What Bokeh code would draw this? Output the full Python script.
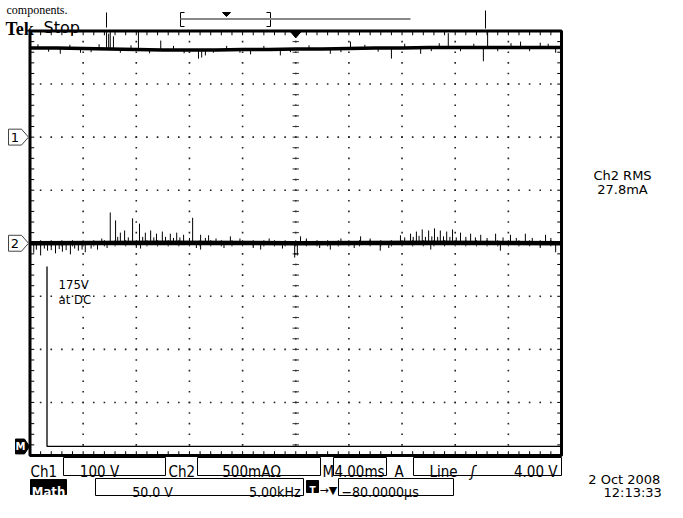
import numpy as np
from bokeh.plotting import figure
from bokeh.models import Range1d
from bokeh.core.properties import value
from bokeh.embed import file_html
from bokeh.resources import INLINE

# ---------------- data (graticule divisions: x 0..10, y -4..4) ----------------
ch1_x = [0, 0.5, 1, 1.5, 2, 2.5, 3, 3.5, 4, 4.5, 5, 5.5, 6, 6.5, 7, 7.5, 8, 8.5, 9, 9.5, 10]
ch1_level = [3.68, 3.68, 3.67, 3.66, 3.65, 3.64, 3.64, 3.64, 3.65, 3.65, 3.66,
             3.66, 3.67, 3.68, 3.68, 3.69, 3.69, 3.69, 3.69, 3.69, 3.69]
ch1_up_x = [1.44, 1.48, 1.51, 1.57, 2.04, 2.46, 6.03, 7.87, 8.61, 9.23, 9.60]
ch1_up_y = [3.98, 3.95, 3.98, 3.90, 3.98, 3.82, 3.80, 3.96, 3.98, 3.80, 3.78]
ch1_dn_x = [0.57, 0.95, 3.17, 3.23, 3.30, 4.15, 4.71, 5.65, 6.80, 7.35, 8.53, 9.89]
ch1_dn_y = [3.57, 3.59, 3.48, 3.50, 3.54, 3.56, 3.54, 3.57, 3.48, 3.57, 3.43, 3.59]
ch1_hair_x = [0.15, 0.35, 0.75, 1.15, 1.30, 1.70, 1.90, 2.25, 2.70, 2.90, 3.45, 3.70,
              3.95, 4.40, 4.90, 5.25, 5.85, 6.30, 6.55, 7.05, 7.55, 7.70, 8.10, 8.35,
              8.80, 9.05, 9.40, 9.75]
ch1_hair_y = [3.75, 3.61, 3.74, 3.60, 3.75, 3.59, 3.73, 3.58, 3.72, 3.58, 3.59, 3.72,
              3.59, 3.72, 3.60, 3.73, 3.60, 3.74, 3.61, 3.76, 3.62, 3.77, 3.62, 3.76,
              3.62, 3.77, 3.62, 3.76]

ch2_x = [0, 2.5, 5, 7.5, 10]
ch2_level = [0.0, 0.01, 0.0, 0.01, 0.0]
ch2_up_x = [1.51, 1.61, 1.70, 1.78, 1.93, 2.06, 2.17, 2.27, 2.38, 2.49, 2.64, 2.76,
            2.89, 3.06, 3.21, 3.36, 3.77, 5.09, 6.22, 6.97, 7.16, 7.27, 7.38, 7.50,
            7.61, 7.72, 7.84, 7.95, 8.10, 8.29, 8.48, 8.76, 9.04, 9.32, 9.70]
ch2_up_y = [0.58, 0.43, 0.20, 0.24, 0.47, 0.37, 0.20, 0.24, 0.18, 0.22, 0.18, 0.20,
            0.16, 0.48, 0.16, 0.15, 0.13, 0.13, 0.13, 0.15, 0.18, 0.22, 0.26, 0.24,
            0.28, 0.24, 0.22, 0.26, 0.20, 0.18, 0.16, 0.18, 0.16, 0.18, 0.16]
ch2_dn_x = [0.07, 0.20, 0.33, 0.48, 0.61, 0.76, 0.91, 1.04, 1.27, 2.08, 3.21, 4.34,
            4.98, 5.03, 5.65, 6.59, 7.54, 8.85, 9.89]
ch2_dn_y = [-0.18, -0.23, -0.14, -0.19, -0.16, -0.21, -0.14, -0.17, -0.12, -0.10,
            -0.12, -0.12, -0.27, -0.23, -0.12, -0.14, -0.12, -0.14, -0.17]
ch2_hair_x = [0.12, 0.27, 0.40, 0.55, 0.68, 0.84, 0.98, 1.15, 1.35, 1.45, 1.65, 1.85,
              2.00, 2.12, 2.33, 2.55, 2.70, 2.82, 3.00, 3.13, 3.30, 3.50, 3.65, 3.95,
              4.20, 4.50, 4.75, 5.20, 5.45, 5.85, 6.10, 6.40, 6.75, 7.05, 7.21, 7.32,
              7.44, 7.56, 7.67, 7.78, 7.90, 8.02, 8.20, 8.38, 8.60, 8.90, 9.15, 9.45,
              9.60, 9.80]
ch2_hair_y = [-0.12, -0.10, -0.13, -0.11, -0.13, -0.10, -0.12, -0.10, 0.09, -0.09, 0.12,
              0.11, -0.09, 0.12, 0.11, 0.12, 0.10, 0.11, 0.10, -0.09, 0.10, 0.09, -0.09,
              0.09, -0.09, 0.09, -0.10, 0.09, -0.09, 0.09, -0.09, 0.09, -0.09, 0.11,
              0.12, 0.14, 0.12, 0.13, 0.12, 0.13, 0.12, 0.11, 0.12, 0.11, 0.10, 0.11,
              0.10, 0.10, -0.09, 0.10]

math_x = [0.32, 0.32, 10.0]
math_y = [-0.44, -3.83, -3.83]

ch1_ref = 2.0
ch2_ref = 0.0
math_ref = -3.83

# ---------------- layout helpers (picture pixels -> graticule units) ----------------
PX0, PXD, PY0, PYD = 29.5, 53.15, 242.75, 53.06
W, H = 667, 502


def X(px):
    return (px - PX0) / PXD


def Y(py):
    return (PY0 - py) / PYD


p = figure(width=W, height=H,
           x_range=Range1d(X(0), X(W)), y_range=Range1d(Y(H), Y(0)),
           output_backend="svg", toolbar_location=None,
           x_axis_type=None, y_axis_type=None, min_border=0,
           outline_line_color=None, background_fill_color="white",
           border_fill_color="white")

COND = "'DejaVu Sans Condensed', 'Liberation Sans Narrow', 'DejaVu Sans'"


def txt(px, py, s, size, font=COND, align="left", color="black", style="normal"):
    p.text(x=[X(px)], y=[Y(py)], text=[s], text_font=value(font),
           text_font_size=value(f"{size}px"), text_align=align,
           text_baseline="alphabetic", text_color=color, text_font_style=style)


def box(x0, y0, x1, y1, fill=None, lw=1, color="black"):
    p.quad(left=[X(x0)], right=[X(x1)], top=[Y(y0)], bottom=[Y(y1)],
           fill_color=fill, line_color=color, line_width=lw)


def seg(x0, y0, x1, y1, lw=1, color="black"):
    p.segment(x0=[X(x0)], y0=[Y(y0)], x1=[X(x1)], y1=[Y(y1)], line_width=lw, line_color=color)


# ---------------- graticule ----------------
steps = np.round(np.arange(-4, 4.001, 0.2), 3)
xsteps = np.round(np.arange(0, 10.001, 0.2), 3)
dx, dy = [], []
for gx in range(1, 10):
    for yy in steps[1:-1]:
        dx.append(gx); dy.append(yy)
for gy in range(-3, 4):
    for xx in xsteps[1:-1]:
        dx.append(xx); dy.append(gy)
p.scatter(dx, dy, marker="square", size=1.6, fill_color="#222222", line_color=None)

# centre crosshair minor ticks
p.segment(x0=[5 - 0.06] * len(steps), y0=list(steps), x1=[5 + 0.06] * len(steps), y1=list(steps),
          line_width=1, line_color="#333333")
p.segment(x0=list(xsteps), y0=[-0.06] * len(xsteps), x1=list(xsteps), y1=[0.06] * len(xsteps),
          line_width=1, line_color="#333333")
# border ticks
p.segment(x0=list(xsteps), y0=[4] * len(xsteps), x1=list(xsteps), y1=[3.92] * len(xsteps),
          line_width=1, line_color="black")
p.segment(x0=list(xsteps), y0=[-4] * len(xsteps), x1=list(xsteps), y1=[-3.92] * len(xsteps),
          line_width=1, line_color="black")
p.segment(x0=[0] * len(steps), y0=list(steps), x1=[0.08] * len(steps), y1=list(steps),
          line_width=1, line_color="black")
p.segment(x0=[10] * len(steps), y0=list(steps), x1=[9.92] * len(steps), y1=list(steps),
          line_width=1, line_color="black")

# ---------------- traces ----------------
# Math (spectrum: DC line)
p.line(math_x, math_y, line_width=1.3, line_color="black")

# Ch2
p.line(ch2_x, ch2_level, line_width=4.5, line_color="black")
for xs, ys in [(ch2_up_x, ch2_up_y), (ch2_dn_x, ch2_dn_y), (ch2_hair_x, ch2_hair_y)]:
    p.segment(x0=xs, y0=list(np.interp(xs, ch2_x, ch2_level)), x1=xs, y1=ys,
              line_width=1, line_color="black")

# Ch1
p.line(ch1_x, ch1_level, line_width=3.5, line_color="black")
for xs, ys in [(ch1_up_x, ch1_up_y), (ch1_dn_x, ch1_dn_y), (ch1_hair_x, ch1_hair_y)]:
    p.segment(x0=xs, y0=list(np.interp(xs, ch1_x, ch1_level)), x1=xs, y1=ys,
              line_width=1, line_color="black")

# frame
p.quad(left=[0], right=[10], bottom=[-4], top=[4], fill_color=None, line_color="black", line_width=3)

# trigger position marker on top of graticule
p.patch(x=[5 - 0.11, 5 + 0.11, 5], y=[4, 4, 3.87], fill_color="black", line_color="black")

# ---------------- channel reference markers ----------------
for lvl, lab in [(ch1_ref, "1"), (ch2_ref, "2")]:
    p.patch(x=[X(8), X(21), X(28), X(21), X(8)],
            y=[lvl + 0.15, lvl + 0.15, lvl, lvl - 0.15, lvl - 0.15],
            fill_color="white", line_color="#444444", line_width=1)
    p.text(x=[X(14.5)], y=[lvl], text=[lab], text_font=value("DejaVu Sans"),
           text_font_size=value("13px"), text_align="center", text_baseline="middle")
p.patch(x=[X(15), X(24), X(29), X(24), X(15)],
        y=[math_ref + 0.14, math_ref + 0.14, math_ref, math_ref - 0.14, math_ref - 0.14],
        fill_color="black", line_color="black")
p.text(x=[X(20)], y=[math_ref], text=["M"], text_font=value("DejaVu Sans"),
       text_font_size=value("10px"), text_align="center", text_baseline="middle",
       text_color="white", text_font_style="bold")

# Math DC annotation
txt(58, 284, "175V", 13)
txt(58, 299, "at DC", 13)

# ---------------- header ----------------
txt(6, 9, "components.", 12, font="Liberation Serif")
txt(5, 28, "Tek", 18, font="Liberation Serif", style="bold")
txt(43, 27, "Stop", 16, font="DejaVu Sans")
seg(106, 12, 106, 27)
seg(180, 12, 180, 26)
seg(180, 12, 184, 12)
seg(180, 26, 184, 26)
seg(270, 12, 270, 26)
seg(266, 12, 270, 12)
seg(266, 26, 270, 26)
seg(180, 18.5, 410, 18.5, lw=2, color="#888888")
p.patch(x=[X(222), X(230), X(226)], y=[Y(12), Y(12), Y(16)], fill_color="black", line_color="black")
seg(485, 10, 485, 28)

# ---------------- right readout ----------------
txt(622, 175, "Ch2 RMS", 13, font="DejaVu Sans", align="center")
txt(622, 189, "27.8mA", 13, font="DejaVu Sans", align="center")

# ---------------- bottom status ----------------
txt(30, 471, "Ch1", 15)
box(63, 457, 165, 475)
txt(99, 471, "100 V", 15, align="center")
txt(168, 471, "Ch2", 15)
box(197, 457, 320, 475)
txt(251, 471, "500mA\u03a9", 15, align="center")
txt(322, 471, "M", 15)
box(333, 457, 386, 475)
txt(359, 471, "4.00ms", 15, align="center")
txt(394, 471, "A", 15)
box(413, 457, 561, 475)
txt(429, 471, "Line", 15)
txt(470, 471, "\u0283", 16, style="italic")
txt(557, 471, "4.00 V", 15, align="right")

box(30, 479, 66, 494, fill="black")
txt(48, 491, "Math", 13, align="center", color="white", style="bold")
box(95, 478, 303, 495)
txt(152, 491, "50.0 V", 14, align="center")
txt(300, 491, "5.00kHz", 14, align="right")
box(306, 480, 318, 492, fill="black")
txt(312, 490, "T", 10, align="center", color="white", style="bold")
txt(319, 490, "\u2192\u25bc", 11, font="DejaVu Sans")
box(338, 478, 453, 495)
txt(341, 491, "\u221280.0000\u00b5s", 14)

txt(664, 479, "2 Oct  2008", 13, font="DejaVu Sans", align="right")
txt(603, 492, "12:13:33", 13, font="DejaVu Sans")

open("out.html", "w").write(file_html(p, INLINE))
